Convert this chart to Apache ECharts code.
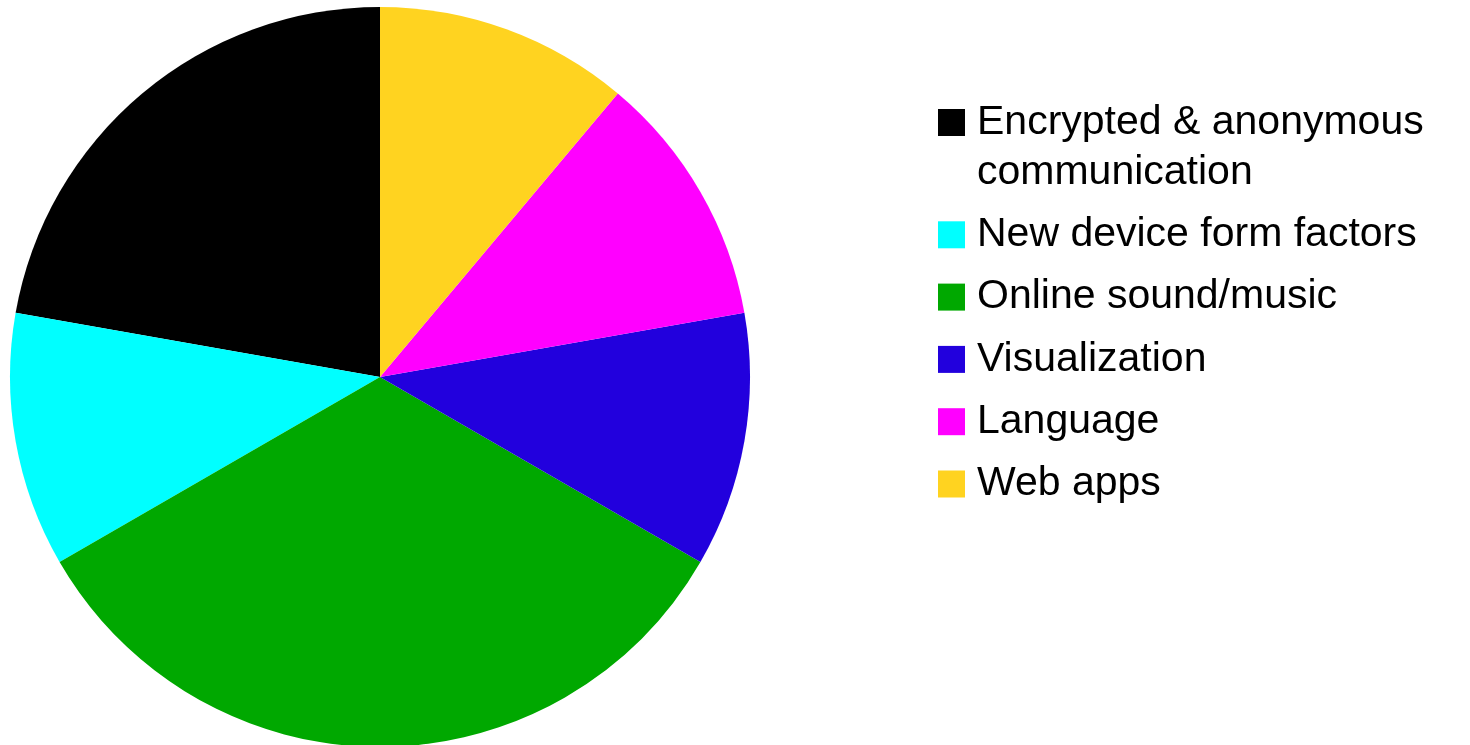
<!DOCTYPE html>
<html>
<head>
<meta charset="utf-8">
<style>
  html, body { margin: 0; padding: 0; background: #ffffff; }
  #chart { width: 1470px; height: 745px; }
</style>
<script src="https://cdn.jsdelivr.net/npm/echarts@6/dist/echarts.min.js"></script>
</head>
<body>
<div id="chart"></div>
<script>
const categories = [
  'Encrypted & anonymous\ncommunication',
  'New device form factors',
  'Online sound/music',
  'Visualization',
  'Language',
  'Web apps'
];
const values = [2, 1, 3, 1, 1, 1];
const colors = ['#000000', '#00ffff', '#00a800', '#2200dd', '#ff00ff', '#ffd320'];

const chart = echarts.init(document.getElementById('chart'), null, { renderer: 'canvas' });

chart.setOption({
  animation: false,
  backgroundColor: '#ffffff',
  color: colors,
  legend: {
    orient: 'vertical',
    left: 938,
    top: 47.5,
    padding: 0,
    itemGap: 12.3,
    itemWidth: 27,
    itemHeight: 27,
    icon: 'rect',
    selectedMode: false,
    data: categories,
    formatter: function (name) {
      const lines = name.split('\n');
      const body = lines.map(function (l) { return '{sp| }{t|' + l + '}'; }).join('\n');
      return lines.length > 1 ? '\n' + body : body;
    },
    textStyle: {
      fontFamily: '"Liberation Sans", Arial, sans-serif',
      fontSize: 41,
      lineHeight: 50,
      color: '#000000',
      rich: {
        sp: { width: 7, fontSize: 41, lineHeight: 50 },
        t: { fontFamily: '"Liberation Sans", Arial, sans-serif', fontSize: 41, lineHeight: 50, color: '#000000' }
      }
    }
  },
  series: [{
    type: 'pie',
    center: [380, 377],
    radius: 370,
    startAngle: 90,
    clockwise: false,
    label: { show: false },
    labelLine: { show: false },
    emphasis: { disabled: true },
    itemStyle: { borderWidth: 0 },
    data: categories.map(function (name, i) {
      return { name: name, value: values[i] };
    })
  }]
});
</script>
</body>
</html>
